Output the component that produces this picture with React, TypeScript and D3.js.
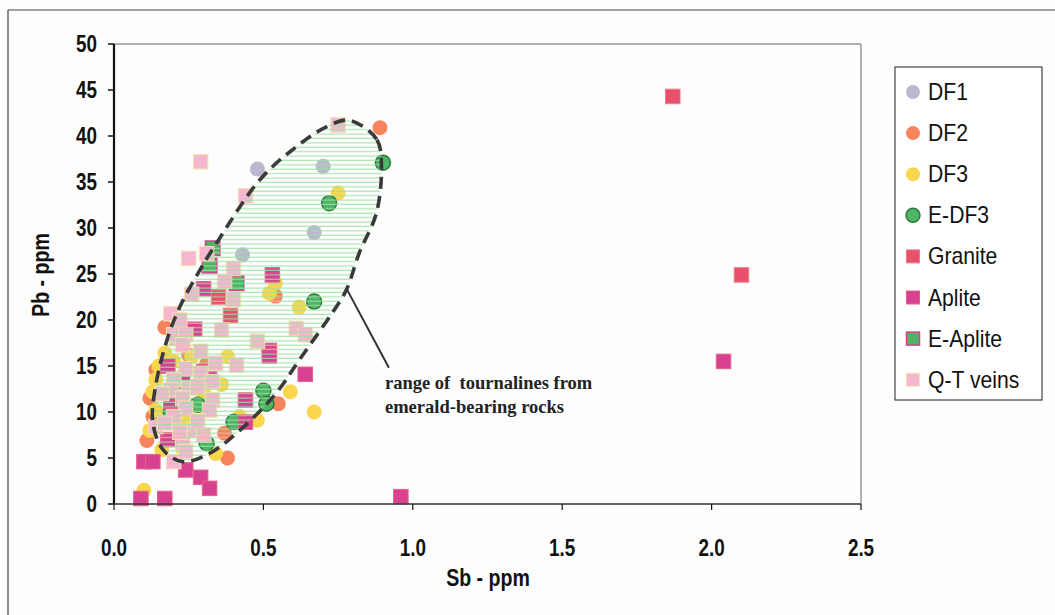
import React from "react";
import * as d3 from "d3";

// ---- data (Sb ppm, Pb ppm) ----
const df1: [number, number][] = [[0.48, 36.4], [0.70, 36.7], [0.67, 29.5], [0.43, 27.1]];
const df2: [number, number][] = [
  [0.89, 40.9], [0.54, 22.6], [0.17, 19.2], [0.25, 16.2], [0.14, 14.6], [0.11, 6.9],
  [0.37, 7.7], [0.38, 5.0], [0.55, 10.9], [0.31, 15.2], [0.20, 10.8], [0.12, 11.5],
  [0.13, 9.5],
];
const df3: [number, number][] = [
  [0.75, 33.8], [0.54, 24.0], [0.52, 22.9], [0.62, 21.4], [0.17, 16.4], [0.26, 16.0],
  [0.38, 16.0], [0.14, 13.5], [0.13, 12.2], [0.30, 12.0], [0.14, 10.2], [0.59, 12.2],
  [0.67, 10.0], [0.48, 9.1], [0.34, 5.5], [0.16, 5.9], [0.10, 1.5], [0.22, 8.5],
  [0.25, 9.5], [0.30, 10.5], [0.36, 13.0], [0.20, 15.5], [0.42, 9.5], [0.23, 6.0],
  [0.12, 8.0], [0.15, 15.0],
];
const edf3: [number, number][] = [
  [0.90, 37.1], [0.72, 32.7], [0.67, 22.0], [0.50, 12.3], [0.51, 10.9], [0.40, 8.9],
  [0.31, 6.6], [0.28, 10.8], [0.19, 9.9],
];
const granite: [number, number][] = [[1.87, 44.3], [2.10, 24.9], [0.35, 22.5], [0.39, 20.5]];
const aplite: [number, number][] = [
  [2.04, 15.5], [0.96, 0.8], [0.53, 24.9], [0.30, 23.4], [0.27, 19.0], [0.52, 16.7],
  [0.52, 16.1], [0.18, 15.0], [0.64, 14.1], [0.30, 14.4], [0.32, 13.8], [0.23, 13.3],
  [0.19, 11.1], [0.44, 11.3], [0.44, 8.9], [0.18, 7.0], [0.10, 4.6], [0.13, 4.6],
  [0.24, 3.7], [0.29, 2.9], [0.32, 1.7], [0.09, 0.6], [0.17, 0.6],
];
const eAplite: [number, number][] = [[0.33, 27.8], [0.32, 25.9], [0.41, 24.0]];
const qtVeins: [number, number][] = [
  [0.75, 41.2], [0.29, 37.2], [0.44, 33.5], [0.25, 26.7], [0.31, 27.2], [0.40, 25.6],
  [0.37, 24.2], [0.40, 22.2], [0.26, 22.8], [0.19, 20.7], [0.22, 20.0], [0.36, 18.9],
  [0.21, 18.0], [0.20, 18.4], [0.24, 18.4], [0.48, 17.7], [0.61, 19.1], [0.64, 18.4],
  [0.29, 16.6], [0.23, 17.3], [0.34, 15.3], [0.41, 15.1], [0.24, 14.7], [0.29, 14.2],
  [0.33, 13.3], [0.20, 13.5], [0.25, 12.6], [0.28, 12.8], [0.19, 12.4], [0.16, 12.0],
  [0.23, 11.5], [0.33, 11.3], [0.24, 10.4], [0.32, 10.2], [0.14, 8.4], [0.20, 9.5],
  [0.17, 8.8], [0.23, 6.6], [0.20, 4.6], [0.24, 5.7], [0.27, 8.0], [0.30, 7.5],
  [0.22, 7.8], [0.28, 9.0],
];
// outline of the "range of tourmalines" field, in data units
const fieldOutline: [number, number][] = [
  [0.788, 41.7], [0.880, 39.6], [0.895, 36.6], [0.878, 31.6], [0.821, 27.3], [0.778, 23.3],
  [0.731, 20.8], [0.621, 15.7], [0.544, 12.1], [0.421, 8.0], [0.320, 5.5], [0.230, 4.6],
  [0.164, 5.9], [0.130, 8.8], [0.137, 12.4], [0.177, 17.8], [0.220, 21.4], [0.287, 25.4],
  [0.344, 28.4], [0.487, 35.2], [0.597, 38.5], [0.711, 41.0],
];
const xTicks = [0, 0.5, 1, 1.5, 2, 2.5];
const yTicks = [0, 5, 10, 15, 20, 25, 30, 35, 40, 45, 50];
const legendLabels = ["DF1", "DF2", "DF3", "E-DF3", "Granite", "Aplite", "E-Aplite", "Q-T veins"];
const noteLines = ["range of  tournalines from", "emerald-bearing rocks"];
const xTitle = "Sb - ppm";
const yTitle = "Pb - ppm";

type Series = { name: string; data: [number, number][]; shape: "circle" | "square"; fill: string; stroke: string; sw: number };
const series: Series[] = [
  { name: legendLabels[0], data: df1, shape: "circle", fill: "#b9b8cf", stroke: "none", sw: 0 },
  { name: legendLabels[1], data: df2, shape: "circle", fill: "#f7845c", stroke: "none", sw: 0 },
  { name: legendLabels[2], data: df3, shape: "circle", fill: "#f9d64c", stroke: "none", sw: 0 },
  { name: legendLabels[3], data: edf3, shape: "circle", fill: "#4fb566", stroke: "#2c7a3c", sw: 1.5 },
  { name: legendLabels[4], data: granite, shape: "square", fill: "#e9506b", stroke: "#f07a8a", sw: 1 },
  { name: legendLabels[5], data: aplite, shape: "square", fill: "#d7418f", stroke: "#e8608a", sw: 1 },
  { name: legendLabels[6], data: eAplite, shape: "square", fill: "#4fb566", stroke: "#d7418f", sw: 1.5 },
  { name: legendLabels[7], data: qtVeins, shape: "square", fill: "#f5b7cf", stroke: "#f7e3b0", sw: 1 },
];

const W = 1055, H = 615;
const PL = 114, PR = 861, PT = 44, PB = 504;
const FONT = "'Liberation Sans', Arial, sans-serif";

function Marker({ s, cx, cy, size }: { s: Series; cx: number; cy: number; size: number }) {
  if (s.shape === "circle")
    return <circle cx={cx} cy={cy} r={size / 2} fill={s.fill} stroke={s.stroke} strokeWidth={s.sw} />;
  return <rect x={cx - size / 2} y={cy - size / 2} width={size} height={size} fill={s.fill} stroke={s.stroke} strokeWidth={s.sw} />;
}

function NarrowText({ x, y, anchor, size, weight, sx, rotate, children }: any) {
  return (
    <text
      transform={`translate(${x},${y})${rotate ? ` rotate(${rotate})` : ""} scale(${sx},1)`}
      textAnchor={anchor}
      fontFamily={FONT}
      fontWeight={weight}
      fontSize={size}
      fill="#111"
    >
      {children}
    </text>
  );
}

export default function App() {
  const x = d3.scaleLinear().domain([0, 2.5]).range([PL, PR]);
  const y = d3.scaleLinear().domain([0, 50]).range([PB, PT]);
  const outline = d3
    .line<[number, number]>()
    .x((d) => x(d[0]))
    .y((d) => y(d[1]))
    .curve(d3.curveCatmullRomClosed.alpha(0.5))(fieldOutline) as string;

  const legendY = (i: number) => 92 + i * 41.1;

  return (
    <svg width={W} height={H} style={{ position: "absolute", left: 0, top: 0, background: "#fff" }}>
      <defs>
        <pattern id="stripes" patternUnits="userSpaceOnUse" width="8" height="4.4">
          <line x1="0" y1="2" x2="8" y2="2" stroke="#9be0a2" strokeWidth="1" />
        </pattern>
      </defs>
      <rect x={0} y={0} width={W} height={H} fill="#fdfdfd" />
      {/* outer frame */}
      <line x1={8} y1={10} x2={W} y2={10} stroke="#444" strokeWidth={1.2} />
      <line x1={8} y1={10} x2={8} y2={H} stroke="#444" strokeWidth={1.2} />

      {/* plot area border */}
      <line x1={PL} y1={PT} x2={PR} y2={PT} stroke="#666" strokeWidth={1.2} />
      <line x1={PR} y1={PT} x2={PR} y2={PB} stroke="#666" strokeWidth={1} />

      {/* points */}
      {series.map((s) => (
        <g key={s.name}>
          {s.data.map((d, i) => (
            <Marker key={i} s={s} cx={x(d[0])} cy={y(d[1])} size={s.shape === "circle" ? 15 : 14.5} />
          ))}
        </g>
      ))}

      {/* field */}
      <path d={outline} fill="url(#stripes)" stroke="#3a3a3a" strokeWidth={3.6} strokeDasharray="12 7" />
      <line x1={x(0.78)} y1={y(23.3)} x2={x(0.92)} y2={y(14.8)} stroke="#333" strokeWidth={2} />
      <text fontFamily="'Liberation Serif', 'Times New Roman', serif" fontSize={18.5} fontWeight="bold" fill="#222" style={{ whiteSpace: "pre" }}>
        <tspan x={385} y={389}>{noteLines[0]}</tspan>
        <tspan x={385} y={413}>{noteLines[1]}</tspan>
      </text>

      {/* axes */}
      <line x1={PL} y1={PT} x2={PL} y2={PB} stroke="#111" strokeWidth={2.2} />
      <line x1={PL} y1={PB} x2={PR} y2={PB} stroke="#333" strokeWidth={1.5} />
      {yTicks.map((t) => (
        <g key={t}>
          <line x1={PL - 6} y1={y(t)} x2={PL} y2={y(t)} stroke="#111" strokeWidth={1.5} />
          <NarrowText x={97} y={y(t) + 8} anchor="end" size={23} weight="bold" sx={0.82}>
            {t}
          </NarrowText>
        </g>
      ))}
      {xTicks.map((t) => (
        <g key={t}>
          <line x1={x(t)} y1={PB} x2={x(t)} y2={PB + 6} stroke="#111" strokeWidth={1.2} />
          <NarrowText x={x(t)} y={556} anchor="middle" size={23} weight="bold" sx={0.82}>
            {d3.format(".1f")(t)}
          </NarrowText>
        </g>
      ))}
      <NarrowText x={488} y={586} anchor="middle" size={23} weight="bold" sx={0.85}>
        {xTitle}
      </NarrowText>
      <NarrowText x={49} y={275} anchor="middle" size={23} weight="bold" sx={0.85} rotate={-90}>
        {yTitle}
      </NarrowText>

      {/* legend */}
      <rect x={895} y={67} width={147} height={333} fill="#fff" stroke="#444" strokeWidth={1.2} />
      {series.map((s, i) => (
        <g key={s.name}>
          <Marker s={s} cx={913} cy={legendY(i)} size={s.shape === "circle" ? 14 : 13} />
          <NarrowText x={928} y={legendY(i) + 8} anchor="start" size={23} weight="normal" sx={0.92}>
            {s.name}
          </NarrowText>
        </g>
      ))}
    </svg>
  );
}
